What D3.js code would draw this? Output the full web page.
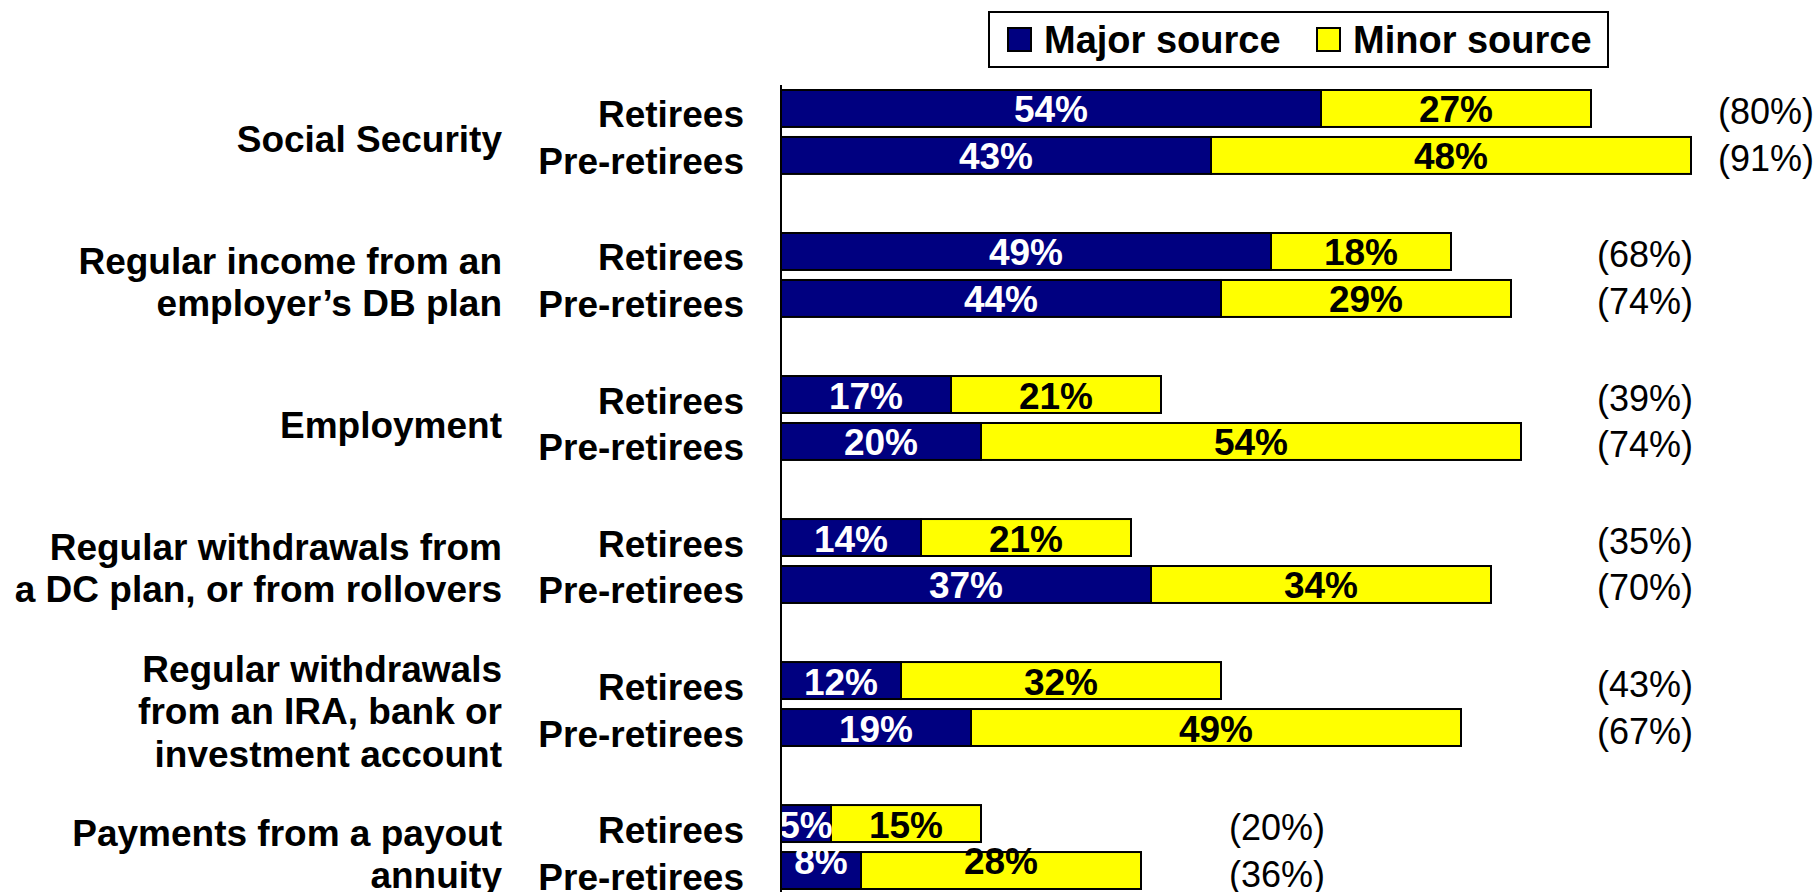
<!DOCTYPE html>
<html>
<head>
  <meta charset="utf-8">
  <title>Sources of retirement income</title>
  <script src="https://d3js.org/d3.v7.min.js"></script>
  <style>
    body { margin: 0; background: #fff; }
    text { font-family: "Liberation Sans", Arial, sans-serif; }
  </style>
</head>
<body>
<svg id="chart"></svg>
<script>

  // chart data
  var categories = [
    "Social Security",
    "Regular income from an\nemployer’s DB plan",
    "Employment",
    "Regular withdrawals from\na DC plan, or from rollovers",
    "Regular withdrawals\nfrom an IRA, bank or\ninvestment account",
    "Payments from a payout\nannuity"
  ];
  var groups = ["Retirees", "Pre-retirees"];
  var series = ["Major source", "Minor source"];

  var majorRetirees = [54, 49, 17, 14, 12, 5];
  var minorRetirees = [27, 18, 21, 21, 32, 15];
  var majorPre = [43, 44, 20, 37, 19, 8];
  var minorPre = [48, 29, 54, 34, 49, 28];
  var totalRetirees = [80, 68, 39, 35, 43, 20];
  var totalPre = [91, 74, 74, 70, 67, 36];

  var width = 1818;
  var height = 892;
  var colors = ["#000080", "#ffff00"];

  var svg = d3.select("#chart")
    .attr("width", width)
    .attr("height", height);

  // one row per category + group
  var rows = [];
  categories.forEach(function(c, i) {
    rows.push({cat: c, grp: groups[0], major: majorRetirees[i], minor: minorRetirees[i], total: totalRetirees[i], idx: i});
    rows.push({cat: c, grp: groups[1], major: majorPre[i], minor: minorPre[i], total: totalPre[i], idx: i});
  });

  var x = d3.scaleLinear()
    .domain([0, 100])
    .range([781, 1781]);

  var y0 = d3.scaleBand()
    .domain(categories)
    .range([90, 889])
    .paddingInner(0.413);

  var y1 = d3.scaleBand()
    .domain(groups)
    .range([0, y0.bandwidth()])
    .paddingInner(0.213);

  var rowY = d => y0(d.cat) + y1(d.grp);
  var rowMid = d => rowY(d) + y1.bandwidth() / 2;

  // bars
  var bar = svg.append("g").selectAll("g")
    .data(rows).enter()
    .append("g");

  bar.append("rect")
    .attr("x", x(0))
    .attr("y", rowY)
    .attr("width", d => x(d.major) - x(0))
    .attr("height", y1.bandwidth())
    .attr("fill", colors[0])
    .attr("stroke", "#000")
    .attr("stroke-width", 2);

  bar.append("rect")
    .attr("x", d => x(d.major))
    .attr("y", rowY)
    .attr("width", d => x(d.major + d.minor) - x(d.major))
    .attr("height", y1.bandwidth())
    .attr("fill", colors[1])
    .attr("stroke", "#000")
    .attr("stroke-width", 2);

  // labels must stay inside the plot area (bottom row gets pushed up)
  var labelMid = d => Math.min(rowMid(d) + 1, 861);

  bar.append("text")
    .attr("x", d => (x(0) + x(d.major)) / 2)
    .attr("y", d => labelMid(d) + 13)
    .attr("text-anchor", "middle")
    .attr("font-size", 37)
    .attr("font-weight", "bold")
    .attr("fill", "#fff")
    .text(d => d.major + "%");

  bar.append("text")
    .attr("x", d => (x(d.major) + x(d.major + d.minor)) / 2)
    .attr("y", d => labelMid(d) + 13)
    .attr("text-anchor", "middle")
    .attr("font-size", 37)
    .attr("font-weight", "bold")
    .attr("fill", "#000")
    .text(d => d.minor + "%");

  // totals sit in columns, placed like the original text boxes
  var totalCol = [93.7, 81.6, 81.6, 81.6, 81.6, 44.8];
  bar.append("text")
    .attr("x", d => x(totalCol[d.idx]))
    .attr("y", d => rowMid(d) + 3 + 13)
    .attr("font-size", 36)
    .attr("fill", "#000")
    .text(d => "(" + d.total + "%)");

  // group labels
  bar.append("text")
    .attr("x", 744)
    .attr("y", d => rowMid(d) + 6 + 13)
    .attr("text-anchor", "end")
    .attr("font-size", 37)
    .attr("font-weight", "bold")
    .text(d => d.grp);

  // category labels
  var catText = svg.append("g").selectAll("text")
    .data(categories).enter()
    .append("text")
    .attr("text-anchor", "end")
    .attr("font-size", 37)
    .attr("font-weight", "bold");

  catText.each(function(c) {
    var lines = c.split("\n");
    var mid = y0(c) + y0.bandwidth() / 2 + 7;
    d3.select(this).selectAll("tspan")
      .data(lines).enter()
      .append("tspan")
      .attr("x", 502)
      .attr("y", (l, i) => mid + (i - (lines.length - 1) / 2) * 42.5 + 13)
      .text(l => l);
  });

  // vertical axis line
  svg.append("line")
    .attr("x1", x(0)).attr("x2", x(0))
    .attr("y1", 85).attr("y2", height)
    .attr("stroke", "#000")
    .attr("stroke-width", 2);

  // legend
  var legend = svg.append("g");
  legend.append("rect")
    .attr("x", 989).attr("y", 12)
    .attr("width", 619).attr("height", 55)
    .attr("fill", "#fff")
    .attr("stroke", "#000")
    .attr("stroke-width", 2);

  var legX = d3.scaleOrdinal().domain(series).range([1008, 1317]);
  var item = legend.selectAll("g.item")
    .data(series).enter()
    .append("g")
    .attr("class", "item");

  item.append("rect")
    .attr("x", d => legX(d)).attr("y", 28)
    .attr("width", 23).attr("height", 23)
    .attr("fill", (d, i) => colors[i])
    .attr("stroke", "#000")
    .attr("stroke-width", 2);

  item.append("text")
    .attr("x", d => legX(d) + 36)
    .attr("y", 53)
    .attr("font-size", 38)
    .attr("font-weight", "bold")
    .text(d => d);

</script>
</body>
</html>
